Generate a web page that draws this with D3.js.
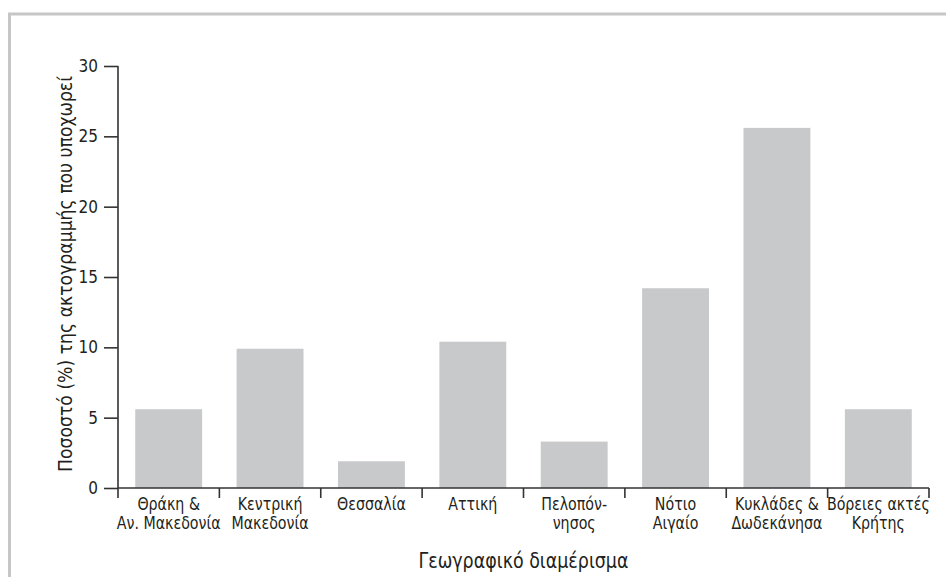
<!DOCTYPE html>
<html>
<head>
<meta charset="utf-8">
<script src="https://cdn.jsdelivr.net/npm/d3@7"></script>
<style>
  html, body { margin: 0; padding: 0; background: #fff; }
  svg { display: block; }
  text { font-family: "DejaVu Sans Condensed", "Liberation Sans", sans-serif; fill: #231f20; }
</style>
</head>
<body>
<svg id="chart" width="946" height="577"></svg>
<script>
const categories = [
  ["Θράκη &", "Αν. Μακεδονία"],
  ["Κεντρική", "Μακεδονία"],
  ["Θεσσαλία"],
  ["Αττική"],
  ["Πελοπόν-", "νησος"],
  ["Νότιο", "Αιγαίο"],
  ["Κυκλάδες &", "Δωδεκάνησα"],
  ["Βόρειες ακτές", "Κρήτης"]
];
const values = [5.6, 9.9, 1.9, 10.4, 3.3, 14.2, 25.6, 5.6];
const yTicks = [0, 5, 10, 15, 20, 25, 30];
const yTitle = "Ποσοστό (%) της ακτογραμμής που υποχωρεί";
const xTitle = "Γεωγραφικό διαμέρισμα";

(function () {
const svg = d3.select("#chart");
const mL = 118, mR = 929, mT = 66, mB = 488;
const axisColor = "#333333";
const fontFam = '"DejaVu Sans Condensed", "Liberation Sans", sans-serif';
const k = 0.93;

// frame
svg.append("rect")
  .attr("x", 9.5).attr("y", 14)
  .attr("width", 960).attr("height", 600)
  .attr("fill", "none").attr("stroke", "#c6c6c6").attr("stroke-width", 3);

const ids = categories.map((d, i) => i);
const x = d3.scaleBand().domain(ids).range([mL, mR]).paddingInner(0.34).paddingOuter(0.17);
const y = d3.scaleLinear().domain([0, 30]).range([mB, mT]);

// bars
svg.append("g").selectAll("rect").data(values).join("rect")
  .attr("x", (d, i) => x(i))
  .attr("y", d => y(d))
  .attr("width", x.bandwidth())
  .attr("height", d => y(0) - y(d))
  .attr("fill", "#c8c9cb");

// y axis
const yAxis = svg.append("g").attr("transform", `translate(${mL},0)`)
  .call(d3.axisLeft(y).tickValues(yTicks).tickSize(14).tickPadding(6));
yAxis.select(".domain").attr("stroke", axisColor).attr("stroke-width", 1.6).attr("d", `M0,${mT}V${mB}`);
yAxis.selectAll(".tick line").attr("stroke", axisColor).attr("stroke-width", 1.6);
yAxis.selectAll(".tick text").attr("font-size", 17).attr("fill", "#231f20").attr("font-family", fontFam);

// x axis line & boundary ticks
const xg = svg.append("g");
xg.append("line").attr("x1", mL).attr("x2", mR).attr("y1", mB).attr("y2", mB)
  .attr("stroke", axisColor).attr("stroke-width", 1.6);
const step = x.step();
const boundaries = d3.range(categories.length + 1).map(i => mL + i * step);
xg.selectAll("line.b").data(boundaries).join("line").attr("class", "b")
  .attr("x1", d => d).attr("x2", d => d)
  .attr("y1", mB).attr("y2", mB + 10)
  .attr("stroke", axisColor).attr("stroke-width", 1.6);

// x labels (horizontally condensed)
const lab = xg.selectAll("text.lab").data(categories).join("text").attr("class", "lab")
  .attr("transform", (d, i) => `translate(${x(i) + x.bandwidth() / 2},509.5) scale(${k},1)`)
  .attr("text-anchor", "middle")
  .attr("font-size", 17);
lab.selectAll("tspan").data(d => d).join("tspan")
  .attr("x", 0)
  .attr("dy", (d, i) => i === 0 ? 0 : 19.5)
  .text(d => d);

// axis titles
svg.append("text")
  .attr("x", (mL + mR) / 2).attr("y", 567.5)
  .attr("text-anchor", "middle").attr("font-size", 21.5)
  .attr("textLength", 210).attr("lengthAdjust", "spacingAndGlyphs")
  .text(xTitle);

svg.append("text")
  .attr("transform", `translate(72,274) rotate(-90)`)
  .attr("text-anchor", "middle").attr("font-size", 19)
  .attr("textLength", 396).attr("lengthAdjust", "spacingAndGlyphs")
  .text(yTitle);
})();
</script>
</body>
</html>
